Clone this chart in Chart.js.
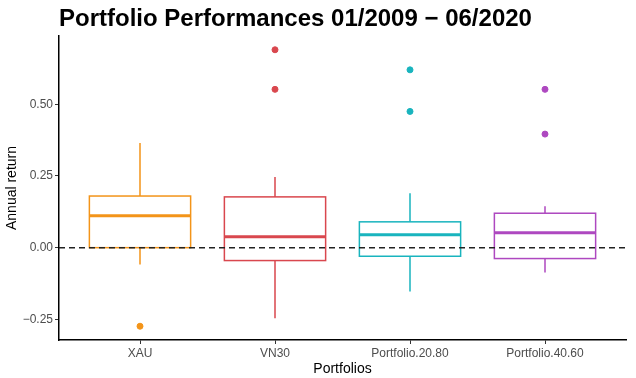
<!DOCTYPE html>
<html>
<head>
<meta charset="utf-8">
<script src="https://cdn.jsdelivr.net/npm/chart.js@4/dist/chart.umd.min.js"></script>
<style>
  html, body { margin: 0; padding: 0; background: #fff; }
  #wrap { width: 636px; height: 378px; }
</style>
</head>
<body>
<div id="wrap"><canvas id="myChart" width="636" height="378"></canvas></div>
<script>
// DATA
const categories = ['XAU', 'VN30', 'Portfolio.20.80', 'Portfolio.40.60'];
const colors = ['#F39419', '#D9474E', '#19B4BE', '#AE48C0'];
const whiskerLow = [-0.059, -0.246, -0.153, -0.087];
const q1 = [0.000, -0.045, -0.030, -0.038];
const median = [0.111, 0.038, 0.045, 0.052];
const q3 = [0.180, 0.177, 0.090, 0.120];
const whiskerHigh = [0.365, 0.246, 0.190, 0.144];
const outliers = [[-0.274], [0.690, 0.552], [0.620, 0.475], [0.552, 0.396]];
const yTicks = [-0.25, 0, 0.25, 0.5];

const boxWidth = 0.75;
const fontFamily = '"Liberation Sans", Arial, sans-serif';

// one scatter dataset per category for the outlier dots
const datasets = categories.map((c, i) => ({
  type: 'scatter',
  label: c,
  data: outliers[i].map(v => ({ x: i + 1, y: v })),
  backgroundColor: colors[i],
  borderColor: colors[i],
  pointRadius: 3,
  pointHoverRadius: 3
}));

// boxes, whiskers, medians and the dashed zero line
const boxPlugin = {
  id: 'boxes',
  beforeDatasetsDraw(chart) {
    const ctx = chart.ctx;
    const xs = chart.scales.x;
    const ys = chart.scales.y;
    const area = chart.chartArea;
    ctx.save();
    for (let i = 0; i < categories.length; i++) {
      const cx = xs.getPixelForValue(i + 1);
      const left = xs.getPixelForValue(i + 1 - boxWidth / 2);
      const right = xs.getPixelForValue(i + 1 + boxWidth / 2);
      const yq1 = ys.getPixelForValue(q1[i]);
      const yq3 = ys.getPixelForValue(q3[i]);
      ctx.strokeStyle = colors[i];
      ctx.lineWidth = 1.5;
      // whiskers
      ctx.beginPath();
      ctx.moveTo(cx, ys.getPixelForValue(whiskerHigh[i]));
      ctx.lineTo(cx, yq3);
      ctx.moveTo(cx, yq1);
      ctx.lineTo(cx, ys.getPixelForValue(whiskerLow[i]));
      ctx.stroke();
      // box
      ctx.fillStyle = '#ffffff';
      ctx.fillRect(left, yq3, right - left, yq1 - yq3);
      ctx.strokeRect(left, yq3, right - left, yq1 - yq3);
      // median
      ctx.lineWidth = 3;
      ctx.beginPath();
      ctx.moveTo(left, ys.getPixelForValue(median[i]));
      ctx.lineTo(right, ys.getPixelForValue(median[i]));
      ctx.stroke();
    }
    // dashed zero line
    const y0 = ys.getPixelForValue(0);
    ctx.strokeStyle = '#222222';
    ctx.lineWidth = 1.5;
    ctx.setLineDash([6, 4]);
    ctx.beginPath();
    ctx.moveTo(area.left, y0);
    ctx.lineTo(area.right, y0);
    ctx.stroke();
    ctx.restore();
  },
  afterDraw(chart) {
    const ctx = chart.ctx;
    ctx.save();
    ctx.fillStyle = '#000';
    ctx.font = 'bold 24px ' + fontFamily;
    ctx.textBaseline = 'alphabetic';
    ctx.fillText('Portfolio Performances 01/2009 \u2212 06/2020', chart.chartArea.left, 26);
    ctx.restore();
  }
};

const config = {
  type: 'scatter',
  data: { datasets: datasets },
  options: {
    responsive: false,
    animation: false,
    layout: { padding: { top: 36, right: 10, left: 0, bottom: 0 } },
    plugins: { legend: { display: false }, tooltip: { enabled: false } },
    scales: {
      x: {
        type: 'linear',
        min: 0.4,
        max: 4.6,
        afterBuildTicks: axis => { axis.ticks = categories.map((c, i) => ({ value: i + 1 })); },
        afterFit: axis => { axis.height = 38; },
        ticks: {
          callback: (v) => categories[v - 1],
          color: '#4D4D4D',
          font: { family: fontFamily, size: 12 },
          padding: 2,
          maxRotation: 0
        },
        grid: { drawOnChartArea: false, drawTicks: true, tickLength: 4, color: '#333' },
        border: { color: '#000', width: 1.5 },
        title: {
          display: true,
          text: 'Portfolios',
          color: '#000',
          font: { family: fontFamily, size: 14 },
          padding: { top: 0, bottom: 0 }
        }
      },
      y: {
        type: 'linear',
        min: -0.322,
        max: 0.738,
        afterBuildTicks: axis => { axis.ticks = yTicks.map(v => ({ value: v })); },
        afterFit: axis => { axis.width = 59; },
        ticks: {
          callback: (v) => (v < 0 ? '\u2212' : '') + Math.abs(v).toFixed(2),
          color: '#4D4D4D',
          font: { family: fontFamily, size: 12 },
          padding: 2
        },
        grid: { drawOnChartArea: false, drawTicks: true, tickLength: 4, color: '#333' },
        border: { color: '#000', width: 1.5 },
        title: {
          display: true,
          text: 'Annual return',
          color: '#000',
          font: { family: fontFamily, size: 14 },
          padding: { top: 4, bottom: 2 }
        }
      }
    }
  },
  plugins: [boxPlugin]
};

const myChart = new Chart(document.getElementById('myChart'), config);
</script>
</body>
</html>
